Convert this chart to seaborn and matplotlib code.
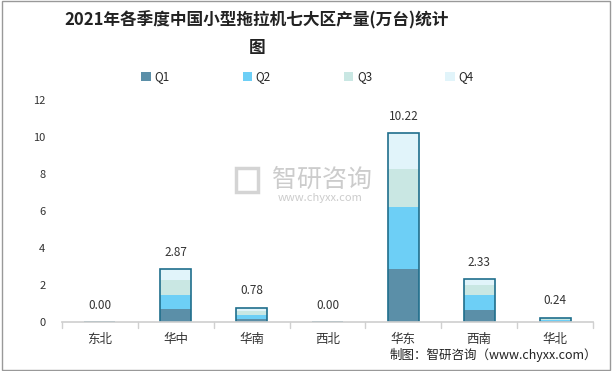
import numpy as np
import pandas as pd
import seaborn as sns
import matplotlib.pyplot as plt
from matplotlib.patches import Patch, Rectangle

regions = ["东北", "华中", "华南", "西北", "华东", "西南", "华北"]
q1 = [0.00, 0.69, 0.15, 0.00, 2.85, 0.63, 0.06]
q2 = [0.00, 0.76, 0.22, 0.00, 3.36, 0.83, 0.07]
q3 = [0.00, 0.81, 0.23, 0.00, 2.06, 0.56, 0.06]
q4 = [0.00, 0.61, 0.18, 0.00, 1.95, 0.31, 0.05]
totals = [0.00, 2.87, 0.78, 0.00, 10.22, 2.33, 0.24]

quarters = ["Q1", "Q2", "Q3", "Q4"]
colors = ["#5b8fa8", "#6dcff6", "#c9e7e3", "#e1f4fa"]

sns.set_theme(style="white")
plt.rcParams["font.family"] = ["Noto Sans CJK SC", "DejaVu Sans"]

df = pd.DataFrame({"region": regions, "Q1": q1, "Q2": q2, "Q3": q3, "Q4": q4})
cum = df[quarters].cumsum(axis=1)
df["total"] = totals

fig = plt.figure(figsize=(6.12, 3.71), dpi=100)
ax = fig.add_axes([62 / 612, 1 - 322 / 371, 531 / 612, 222 / 371])

# stack by overdrawing cumulative heights, tallest first
for q, c in reversed(list(zip(quarters, colors))):
    sns.barplot(x=df["region"], y=cum[q], color=c, width=0.41, ax=ax,
                saturation=1, linewidth=0)
sns.barplot(x=df["region"], y=df["total"], fill=False, width=0.41, ax=ax,
            edgecolor="#1f6e8c", linewidth=1.2)

for i, t in enumerate(totals):
    ax.text(i, t + 0.55, f"{t:.2f}", ha="center", va="bottom", fontsize=8.5, color="#333333")

ax.set_ylim(0, 12)
ax.set_xlim(-0.5, 6.5)
ax.set_yticks(range(0, 13, 2))
ax.set_xlabel("")
ax.set_ylabel("")
ax.tick_params(axis="y", labelsize=8, colors="#333333", length=0, pad=12)
ax.tick_params(axis="x", labelsize=9, colors="#333333", length=0, pad=8)
ax.set_xticks(range(7))
ax.set_xticklabels(regions)
for s in ["top", "right", "left"]:
    ax.spines[s].set_visible(False)
ax.spines["bottom"].set_color("#d0d0d0")
for xb in np.arange(-0.5, 7, 1.0):
    ax.plot([xb, xb], [0, -0.3], color="#d0d0d0", lw=1, clip_on=False)

handles = [Patch(facecolor=c, edgecolor="none", label=q) for q, c in zip(quarters, colors)]
fig.legend(handles=handles, loc="center", bbox_to_anchor=(0.502, 1 - 77 / 371), ncol=4,
           frameon=False, fontsize=8.5, handlelength=0.8, handleheight=0.8,
           handletextpad=0.3, columnspacing=6.2)

fig.text(0.42, 1 - 20 / 371, "2021年各季度中国小型拖拉机七大区产量(万台)统计", ha="center",
         va="center", fontsize=12, fontweight="bold", color="#222222")
fig.text(0.42, 1 - 48 / 371, "图", ha="center", va="center", fontsize=12,
         fontweight="bold", color="#222222")

# watermark
fig.text(322 / 612, 1 - 180 / 371, "智研咨询", ha="center", va="center", fontsize=18,
         color="#aaaaaa", alpha=0.6)
fig.text(320 / 612, 1 - 198 / 371, "www.chyxx.com", ha="center", va="center", fontsize=8,
         color="#aaaaaa", alpha=0.6)
fig.patches.append(Rectangle((236 / 612, 1 - 192 / 371), 22 / 612, 24 / 371,
                             transform=fig.transFigure, fill=False,
                             edgecolor="#aaaaaa", alpha=0.5, lw=2.5))

fig.text(597 / 612, 1 - 355 / 371, "制图：智研咨询（www.chyxx.com）", ha="right",
         va="center", fontsize=9, color="#222222")

fig.patches.append(Rectangle((0.003, 0.004), 0.994, 0.992, transform=fig.transFigure,
                             fill=False, edgecolor="#999999", lw=1))

fig.savefig("out.png", dpi=100)
